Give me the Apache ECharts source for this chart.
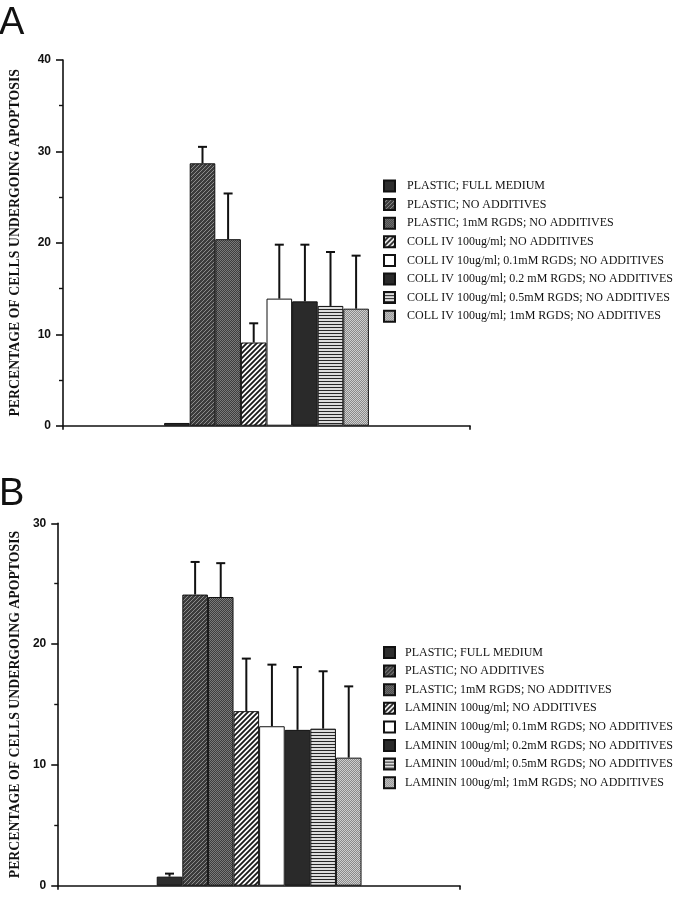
<!DOCTYPE html>
<html>
<head>
<meta charset="utf-8">
<script src="https://cdn.jsdelivr.net/npm/echarts@6/dist/echarts.min.js"></script>
<style>
  html, body { margin: 0; padding: 0; background: #fff; }
  #chart { width: 689px; height: 900px; }
</style>
</head>
<body>
<div id="chart"></div>
<script>
// ---------- DATA ----------
const namesA = [
  'PLASTIC; FULL MEDIUM',
  'PLASTIC; NO ADDITIVES',
  'PLASTIC; 1mM RGDS; NO ADDITIVES',
  'COLL IV 100ug/ml; NO ADDITIVES',
  'COLL IV 10ug/ml; 0.1mM RGDS; NO ADDITIVES',
  'COLL IV 100ug/ml; 0.2 mM RGDS; NO ADDITIVES',
  'COLL IV 100ug/ml; 0.5mM RGDS; NO ADDITIVES',
  'COLL IV 100ug/ml; 1mM RGDS; NO ADDITIVES'
];
const valuesA = [0.3, 28.7, 20.4, 9.1, 13.9, 13.6, 13.1, 12.8];
const errTopA = [null, 30.5, 25.4, 11.2, 19.8, 19.8, 19.0, 18.6];

const namesB = [
  'PLASTIC; FULL MEDIUM',
  'PLASTIC; NO ADDITIVES',
  'PLASTIC; 1mM RGDS; NO ADDITIVES',
  'LAMININ 100ug/ml; NO ADDITIVES',
  'LAMININ 100ug/ml; 0.1mM RGDS; NO ADDITIVES',
  'LAMININ 100ug/ml; 0.2mM RGDS; NO ADDITIVES',
  'LAMININ 100ud/ml; 0.5mM RGDS; NO ADDITIVES',
  'LAMININ 100ug/ml; 1mM RGDS; NO ADDITIVES'
];
const valuesB = [0.75, 24.1, 23.9, 14.45, 13.2, 12.9, 13.0, 10.6];
const errTopB = [1.0, 26.8, 26.7, 18.8, 18.3, 18.1, 17.75, 16.5];

const yTicksA = { min: 0, max: 40, interval: 10 };
const yTicksB = { min: 0, max: 30, interval: 10 };
const yAxisTitle = 'PERCENTAGE OF CELLS UNDERGOING APOPTOSIS';

// ---------- PATTERNS ----------
function tile(w, h, draw) {
  const c = document.createElement('canvas');
  c.width = w; c.height = h;
  const g = c.getContext('2d');
  draw(g, w, h);
  return { image: c, repeat: 'repeat' };
}
function solid(col) { return col; }
function diag(bg, fg, p, lw) {
  return tile(p, p, (g, w, h) => {
    g.fillStyle = bg; g.fillRect(0, 0, w, h);
    g.strokeStyle = fg; g.lineWidth = lw;
    g.beginPath();
    g.moveTo(-1, p + 1); g.lineTo(p + 1, -1);
    g.moveTo(-1, 1); g.lineTo(1, -1);
    g.moveTo(p - 1, p + 1); g.lineTo(p + 1, p - 1);
    g.stroke();
  });
}
function checker(a, b) {
  return tile(2, 2, (g) => {
    g.fillStyle = a; g.fillRect(0, 0, 2, 2);
    g.fillStyle = b; g.fillRect(0, 0, 1, 1); g.fillRect(1, 1, 1, 1);
  });
}
function hstripes(dark, light) {
  return tile(3, 3, (g) => {
    g.fillStyle = light; g.fillRect(0, 0, 3, 3);
    g.fillStyle = dark; g.fillRect(0, 0, 3, 1);
  });
}
const fills = [
  solid('#2e2e2e'),
  diag('#3c3c3c', '#8c8c8c', 4, 1),
  checker('#3e3e3e', '#7a7a7a'),
  diag('#ffffff', '#1a1a1a', 5, 1.8),
  solid('#ffffff'),
  solid('#2a2a2a'),
  hstripes('#262626', '#dcdcdc'),
  checker('#8a8a8a', '#cfcfcf')
];

// ---------- LAYOUT ----------
const BAR_W = 25.6;
const grids = [
  { left: 60, top: 60, width: 410, height: 365.7 },
  { left: 52, top: 523.3, width: 408, height: 362.4 }
];

function yAxisCfg(gi, t, gap) {
  return {
    type: 'value', gridIndex: gi, min: t.min, max: t.max, interval: t.interval,
    name: yAxisTitle, nameLocation: 'middle', nameRotate: 90, nameGap: gap,
    nameTextStyle: { fontFamily: 'Liberation Serif', fontWeight: 'bold', fontSize: 13.8, color: '#111' },
    axisLine: { show: true, lineStyle: { color: '#111', width: 1.6 } },
    axisTick: { show: true, length: 7, lineStyle: { color: '#111', width: 1.6 } },
    minorTick: { show: true, splitNumber: 2, length: 4, lineStyle: { color: '#111', width: 1.4 } },
    splitLine: { show: false },
    axisLabel: { margin: 12, fontFamily: 'Liberation Sans', fontWeight: 'bold', fontSize: 12, color: '#111' }
  };
}
function xAxisCfg(gi) {
  return {
    type: 'category', gridIndex: gi, data: [''],
    axisLine: { show: true, lineStyle: { color: '#111', width: 1.6 } },
    axisTick: { show: true, length: 4, lineStyle: { color: '#111', width: 1.6 } },
    axisLabel: { show: false }
  };
}

function barSeries(names, values, gi) {
  return names.map((n, i) => ({
    type: 'bar', name: n, xAxisIndex: gi, yAxisIndex: gi,
    data: [values[i]], barWidth: BAR_W, barGap: '0%',
    itemStyle: { color: fills[i], borderColor: '#111', borderWidth: 1 },
    emphasis: { disabled: true }, animation: false
  }));
}
function errSeries(values, tops, gi) {
  const data = [];
  values.forEach((v, i) => { if (tops[i] != null) data.push([0, i, v, tops[i]]); });
  return {
    type: 'custom', xAxisIndex: gi, yAxisIndex: gi, z: 5, animation: false,
    encode: { x: 0, y: [2, 3] }, data,
    renderItem(params, api) {
      const idx = api.value(1);
      const base = api.coord([api.value(0), api.value(2)]);
      const top = api.coord([api.value(0), api.value(3)]);
      const x = base[0] + (idx - 3.5) * BAR_W;
      const st = { stroke: '#111', lineWidth: 2 };
      return {
        type: 'group', children: [
          { type: 'line', shape: { x1: x, y1: base[1], x2: x, y2: top[1] }, style: st },
          { type: 'line', shape: { x1: x - 4.5, y1: top[1], x2: x + 4.5, y2: top[1] }, style: st }
        ]
      };
    }
  };
}
function legendCfg(names, top, textPad) {
  return {
    orient: 'vertical', left: 383, top: top, padding: 0,
    itemWidth: 11, itemHeight: 11, itemGap: 5.6, icon: 'rect',
    data: names, selectedMode: false,
    textStyle: { fontFamily: 'Liberation Serif', fontSize: 12, color: '#111', padding: [0, 0, 0, textPad] }
  };
}

const chart = echarts.init(document.getElementById('chart'), null, { renderer: 'canvas' });
chart.setOption({
  backgroundColor: '#fff',
  animation: false,
  title: [
    { text: 'A', left: -1, top: 5, padding: 0, textStyle: { fontFamily: 'Liberation Sans', fontWeight: 'normal', fontSize: 38, color: '#111' } },
    { text: 'B', left: -1, top: 476, padding: 0, textStyle: { fontFamily: 'Liberation Sans', fontWeight: 'normal', fontSize: 38, color: '#111' } }
  ],
  grid: grids,
  xAxis: [xAxisCfg(0), xAxisCfg(1)],
  yAxis: [yAxisCfg(0, yTicksA, 41), yAxisCfg(1, yTicksB, 34)],
  legend: [legendCfg(namesA, 179.5, 7), legendCfg(namesB, 646, 5)],
  series: [
    ...barSeries(namesA, valuesA, 0),
    errSeries(valuesA, errTopA, 0),
    ...barSeries(namesB, valuesB, 1),
    errSeries(valuesB, errTopB, 1)
  ]
});
</script>
</body>
</html>
